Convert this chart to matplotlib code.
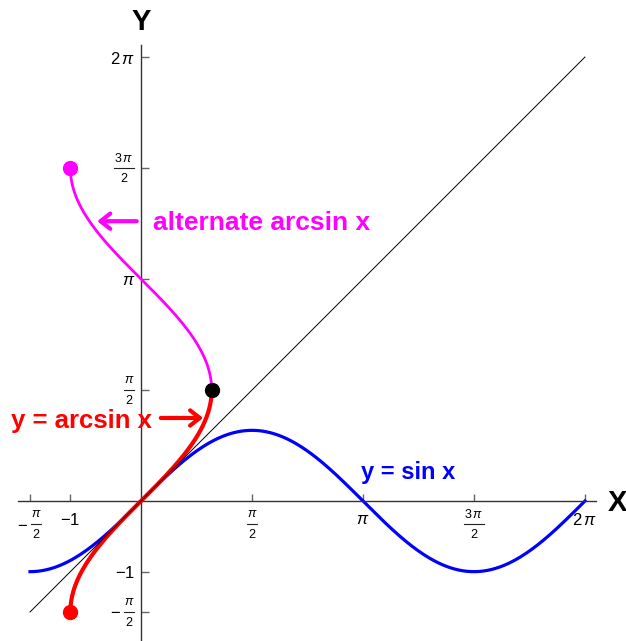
import numpy as np
import matplotlib.pyplot as plt
import matplotlib.transforms as mtransforms

plt.rcParams['font.family'] = ['Liberation Sans', 'DejaVu Sans']
plt.rcParams['mathtext.fontset'] = 'custom'
plt.rcParams['mathtext.rm'] = 'Liberation Sans'
plt.rcParams['mathtext.it'] = 'Liberation Sans:italic'
plt.rcParams['mathtext.bf'] = 'Liberation Sans:bold'

pi = np.pi

# domains of the three curves and the diagonal
sin_span = [-pi/2, 2*pi]
arcsin_span = [-1.0, 1.0]
alt_span = [pi/2, 3*pi/2]   # y range of the alternate branch, x = sin y
diag_span = [-pi/2, 2*pi]

# end points marked with dots
red_dot = (-1.0, -pi/2)
magenta_dot = (-1.0, 3*pi/2)
black_dot = (1.0, pi/2)

ticks = [-pi/2, -1, pi/2, pi, 3*pi/2, 2*pi]
# plain labels; None means the tick gets a stacked fraction instead
plain_labels = [None, r'$-1$', None, r'$\pi$', None, r'$2\,\pi$']
# (sign, numerator, denominator) for the fraction ticks
frac_labels = {0: ('-', r'$\pi$', '2'), 2: ('', r'$\pi$', '2'),
               4: ('', r'$3\,\pi$', '2')}

fig = plt.figure(figsize=(6.26, 6.41), dpi=100)
ax = fig.add_axes([0, 0, 1, 1])
sc = 70.66  # pixels per unit
ax.set_xlim(-141/sc, (626-141)/sc)
ax.set_ylim(-(641-501)/sc, 501/sc)

xs = np.linspace(sin_span[0], sin_span[1], 400)
ax.plot(xs, np.sin(xs), color='#0000ff', lw=2.3, zorder=2)

xa = np.linspace(arcsin_span[0], arcsin_span[1], 400)
ax.plot(xa, np.arcsin(xa), color='#ff0000', lw=3.0, zorder=3)

ya = np.linspace(alt_span[0], alt_span[1], 400)
ax.plot(np.sin(ya), ya, color='#ff00ff', lw=2.0, zorder=3)

ax.plot(diag_span, diag_span, color='black', lw=0.7, zorder=4)

ax.plot(*red_dot, 'o', color='#ff0000', ms=10, zorder=5)
ax.plot(*magenta_dot, 'o', color='#ff00ff', ms=10, zorder=5)
ax.plot(*black_dot, 'o', color='black', ms=10, zorder=5)

# axes through the origin
for s in ['top', 'right']:
    ax.spines[s].set_visible(False)
ax.spines['bottom'].set_position(('data', 0))
ax.spines['left'].set_position(('data', 0))
ax.spines['bottom'].set_bounds(-123/sc, 455/sc)
ax.spines['left'].set_bounds(-140/sc, 456/sc)
for s in ['bottom', 'left']:
    ax.spines[s].set_color('#333333')
    ax.spines[s].set_linewidth(1.0)

ax.set_xticks(ticks)
ax.set_xticklabels([l or '' for l in plain_labels])
ax.set_yticks(ticks)
ax.set_yticklabels([l or '' for l in plain_labels])
ax.tick_params(axis='x', direction='in', length=5, width=1, color='#666666',
               pad=8, labelsize=12)
ax.tick_params(axis='y', direction='in', length=6, width=1, color='#666666',
               pad=4, labelsize=12)


def fraction(xd, yd, dx, dy, sign, num, den, width):
    # stacked fraction drawn in pixel offsets around a data point
    tr = mtransforms.IdentityTransform() + \
        mtransforms.ScaledTranslation(xd, yd, ax.transData)
    ax.text(dx, dy + 10, num, transform=tr, fontsize=9, ha='center',
            va='center', clip_on=False)
    ax.text(dx, dy - 11, den, transform=tr, fontsize=9, ha='center',
            va='center', clip_on=False)
    ax.plot([dx - width/2, dx + width/2], [dy, dy], transform=tr,
            color='#222222', lw=0.8, clip_on=False)
    if sign:
        ax.text(dx - width/2 - 3, dy, r'$-$', transform=tr, fontsize=12,
                ha='right', va='center', clip_on=False)


for i, (sign, num, den) in frac_labels.items():
    w = 20 if '3' in num else 10
    # x axis: fraction bar sits 23 px under the axis
    fraction(ticks[i], 0, 6 if sign else 0, -23, sign, num, den, w)
    # y axis: bar level with the tick, right edge 7 px left of the axis
    fraction(0, ticks[i], -7 - w/2, 0, sign, num, den, w)

ax.text(617/sc - 141/sc, -0.03, 'X', fontsize=21, fontweight='bold',
        ha='center', va='center')
ax.text(0, (501-22)/sc, 'Y', fontsize=21, fontweight='bold',
        ha='center', va='center')

# labels with arrows
arrow = '->,head_length=0.7,head_width=0.55'
ax.text(-0.835, 1.13, 'y = arcsin x', color='#ff0000', fontsize=18.5,
        fontweight='bold', ha='center', va='center')
ax.annotate('', xy=(0.88, 1.175), xytext=(0.28, 1.175),
            arrowprops=dict(arrowstyle=arrow, color='#ff0000', lw=3,
                            shrinkA=0, shrinkB=0))
ax.text(1.70, 3.94, 'alternate arcsin x', color='#ff00ff', fontsize=19,
        fontweight='bold', ha='center', va='center')
ax.annotate('', xy=(-0.62, 3.96), xytext=(-0.06, 3.96),
            arrowprops=dict(arrowstyle=arrow, color='#ff00ff', lw=3,
                            shrinkA=0, shrinkB=0))
ax.text(3.78, 0.41, 'y = sin x', color='#0000ff', fontsize=17,
        fontweight='bold', ha='center', va='center')

fig.savefig('out.png', dpi=100)
